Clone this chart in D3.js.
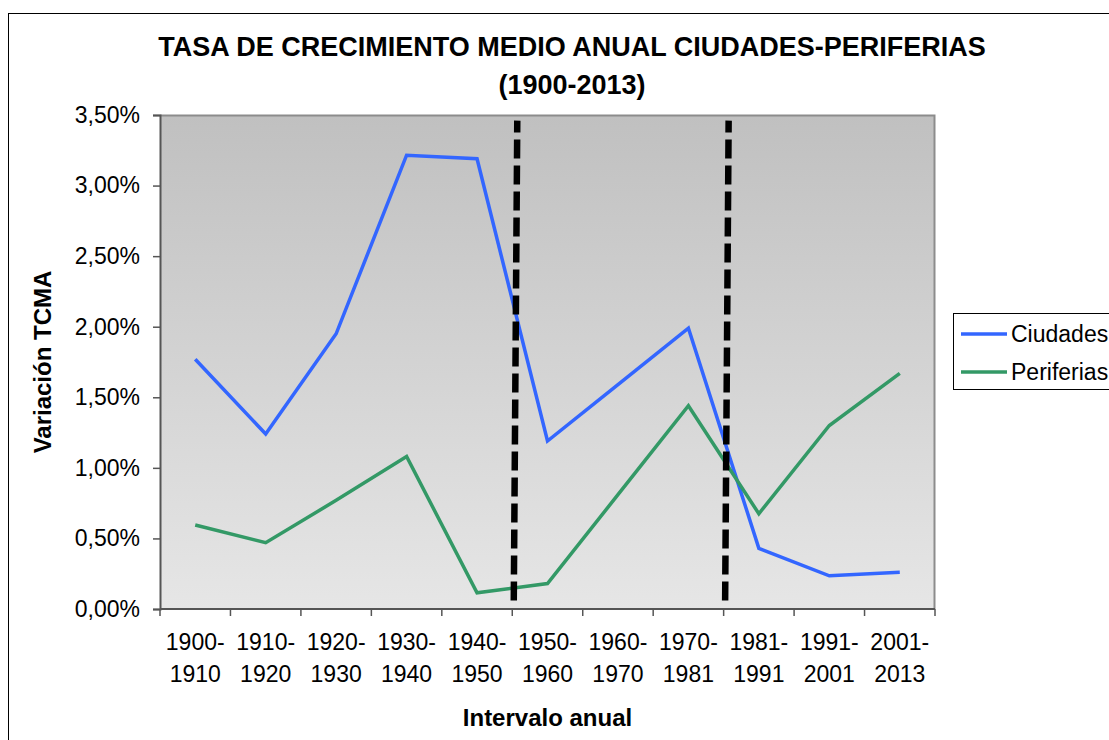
<!DOCTYPE html>
<html>
<head>
<meta charset="utf-8">
<script src="https://cdn.jsdelivr.net/npm/d3@7"></script>
<style>
  body { margin: 0; background: #fff; }
  svg text { font-family: "Liberation Sans", Arial, sans-serif; fill: #000; }
</style>
</head>
<body>
<svg id="chart"></svg>
<script>
// data
const intervals = ["1900-1910", "1910-1920", "1920-1930", "1930-1940", "1940-1950", "1950-1960",
                   "1960-1970", "1970-1981", "1981-1991", "1991-2001", "2001-2013"];
const ciudades  = [1.77, 1.24, 1.95, 3.215, 3.19, 1.19, 1.59, 1.99, 0.43, 0.235, 0.26];
const periferias = [0.595, 0.47, 0.77, 1.08, 0.115, 0.18, 0.81, 1.44, 0.675, 1.30, 1.67];
const yTicks = [0, 0.5, 1, 1.5, 2, 2.5, 3, 3.5];
// period breaks drawn as dashed lines, placed before these intervals
const breaks = ["1950-1960", "1981-1991"];
const breakSpan = [0.06, 3.46];

const series = [
  { name: "Ciudades", values: ciudades, color: "#3366ff" },
  { name: "Periferias", values: periferias, color: "#339966" }
];

const width = 1109, height = 740;
const plot = { left: 160, right: 935, top: 115, bottom: 609 };

const svg = d3.select("#chart").attr("width", width).attr("height", height);

// outer chart frame
svg.append("rect")
   .attr("x", 8.5).attr("y", 13.5)
   .attr("width", width + 20).attr("height", height + 20)
   .attr("fill", "#fff").attr("stroke", "#000").attr("stroke-width", 1);

const x = d3.scaleBand().domain(intervals).range([plot.left, plot.right]);
const y = d3.scaleLinear().domain([0, 3.5]).range([plot.bottom, plot.top]);

// plot background gradient
const grad = svg.append("defs").append("linearGradient")
   .attr("id", "bg").attr("x1", 0).attr("y1", 0).attr("x2", 0).attr("y2", 1);
grad.append("stop").attr("offset", "0%").attr("stop-color", "#c0c0c0");
grad.append("stop").attr("offset", "100%").attr("stop-color", "#e6e6e6");

svg.append("rect")
   .attr("x", plot.left).attr("y", plot.top)
   .attr("width", plot.right - plot.left).attr("height", plot.bottom - plot.top)
   .attr("fill", "url(#bg)");

// plot border top/right
svg.append("path")
   .attr("d", `M${plot.left},${plot.top + 0.5}H${plot.right - 0.5}V${plot.bottom}`)
   .attr("fill", "none").attr("stroke", "#8c8c8c").attr("stroke-width", 2);

// y axis
const yAxis = d3.axisLeft(y)
   .tickValues(yTicks)
   .tickSize(7)
   .tickPadding(13)
   .tickFormat(d => d3.format(".2f")(d).replace(".", ",") + "%");
const gy = svg.append("g").attr("transform", `translate(${plot.left},0)`).call(yAxis);
gy.select(".domain").attr("stroke", "#555").attr("stroke-width", 2);
gy.selectAll(".tick line").attr("stroke", "#555").attr("stroke-width", 1.5);
gy.selectAll("text").style("font-size", "23px").attr("fill", "#000");

// x axis: ticks on band boundaries
const gx = svg.append("g").attr("transform", `translate(0,${plot.bottom})`);
gx.append("line")
  .attr("x1", plot.left).attr("x2", plot.right)
  .attr("stroke", "#555").attr("stroke-width", 2);
const bounds = intervals.map(d => x(d)).concat([plot.right]);
gx.selectAll(".xt").data(bounds).enter()
  .append("line").attr("class", "xt")
  .attr("x1", d => d).attr("x2", d => d)
  .attr("y1", 0).attr("y2", 7)
  .attr("stroke", "#555").attr("stroke-width", 1.5);
const xl = gx.selectAll(".xl").data(intervals).enter()
  .append("text").attr("class", "xl")
  .attr("x", d => x(d) + x.bandwidth() / 2)
  .attr("text-anchor", "middle")
  .style("font-size", "23px");
xl.append("tspan").attr("x", d => x(d) + x.bandwidth() / 2).attr("y", 41).text(d => d.slice(0, 5));
xl.append("tspan").attr("x", d => x(d) + x.bandwidth() / 2).attr("y", 73).text(d => d.slice(5));

// lines
const line = d3.line()
   .x((d, i) => x(intervals[i]) + x.bandwidth() / 2)
   .y(d => y(d));

svg.selectAll(".series").data(series).enter()
   .append("path").attr("class", "series")
   .attr("d", d => line(d.values))
   .attr("fill", "none")
   .attr("stroke", d => d.color)
   .attr("stroke-width", 3.5)
   .attr("stroke-linejoin", "miter");

// dashed break lines
svg.selectAll(".brk").data(breaks).enter()
   .append("line").attr("class", "brk")
   .attr("x1", d => x(d) + 1.5).attr("x2", d => x(d) + 5)
   .attr("y1", y(breakSpan[0])).attr("y2", y(breakSpan[1]))
   .attr("stroke", "#000").attr("stroke-width", 6.5)
   .attr("stroke-dasharray", "19,7");

// titles
svg.append("text")
   .attr("x", 572).attr("y", 56)
   .attr("text-anchor", "middle")
   .style("font-size", "27px").style("font-weight", "bold")
   .text("TASA DE CRECIMIENTO MEDIO ANUAL CIUDADES-PERIFERIAS");
svg.append("text")
   .attr("x", 572).attr("y", 94)
   .attr("text-anchor", "middle")
   .style("font-size", "27px").style("font-weight", "bold")
   .text("(1900-2013)");

svg.append("text")
   .attr("transform", `translate(51,${(plot.top + plot.bottom) / 2}) rotate(-90)`)
   .attr("text-anchor", "middle")
   .style("font-size", "24px").style("font-weight", "bold")
   .text("Variación TCMA");

svg.append("text")
   .attr("x", (plot.left + plot.right) / 2).attr("y", 726)
   .attr("text-anchor", "middle")
   .style("font-size", "24px").style("font-weight", "bold")
   .text("Intervalo anual");

// legend
const lg = svg.append("g").attr("transform", "translate(953,313)");
lg.append("rect")
  .attr("x", 0.5).attr("y", 0.5).attr("width", 200).attr("height", 76)
  .attr("fill", "#fff").attr("stroke", "#000").attr("stroke-width", 1);
const li = lg.selectAll(".li").data(series).enter()
  .append("g").attr("class", "li")
  .attr("transform", (d, i) => `translate(0,${21 + i * 38})`);
li.append("line")
  .attr("x1", 8).attr("x2", 54)
  .attr("stroke", d => d.color).attr("stroke-width", 3.5);
li.append("text")
  .attr("x", 58).attr("y", 8)
  .style("font-size", "23px")
  .text(d => d.name);
</script>
</body>
</html>
